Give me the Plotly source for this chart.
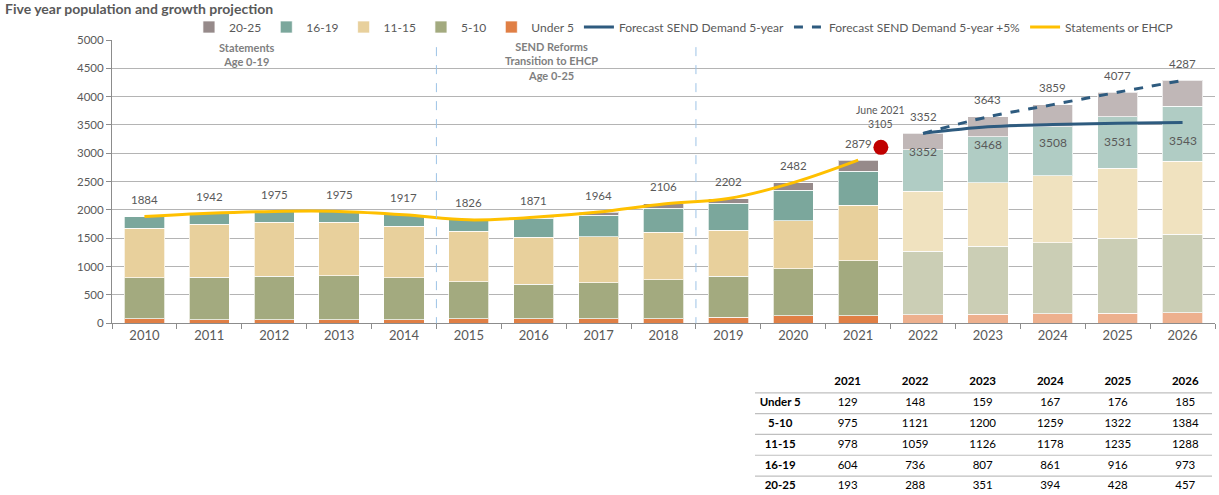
import plotly.graph_objects as go

# ---------------- data ----------------
years = list(range(2010, 2027))
under5   = [76, 64, 64, 64, 64, 76, 76, 76, 76, 111, 129, 129, 148, 159, 167, 176, 185]
age5_10  = [729, 753, 770, 776, 741, 658, 617, 640, 693, 723, 834, 975, 1121, 1200, 1259, 1322, 1384]
age11_15 = [876, 934, 947, 947, 911, 889, 824, 812, 836, 812, 847, 978, 1059, 1126, 1178, 1235, 1288]
age16_19 = [203, 191, 194, 188, 201, 203, 340, 382, 423, 470, 541, 604, 736, 807, 861, 916, 973]
age20_25 = [0, 0, 0, 0, 0, 0, 14, 54, 78, 86, 131, 193, 288, 351, 394, 428, 457]

hist_years = list(range(2010, 2022))
statements_ehcp = [1884, 1942, 1975, 1975, 1917, 1826, 1871, 1964, 2106, 2202, 2482, 2879]

fc_years = [2022, 2023, 2024, 2025, 2026]
forecast_5yr = [3352, 3468, 3508, 3531, 3543]
forecast_5yr_plus5 = [3352, 3643, 3859, 4077, 4287]

june_x = [2021.35]
june_y = [3105]

period_breaks = [2014.5, 2018.5]
table_years = [2021, 2022, 2023, 2024, 2025, 2026]
row_labels = ["Under 5", "5-10", "11-15", "16-19", "20-25"]

totals = [a + b + c + d + e for a, b, c, d, e in zip(under5, age5_10, age11_15, age16_19, age20_25)]

# ---------------- styling ----------------
FONT = "Lato"
GREY = "#595959"
W, H = 1219, 495
FC_START = 2022

series = [
    ("Under 5", under5, "#E07F45", "#EDB08E", 5),
    ("5-10", age5_10, "#A3AA7F", "#CBCEB5", 4),
    ("11-15", age11_15, "#E8D09C", "#F0E2BF", 3),
    ("16-19", age16_19, "#7BA79C", "#B0CCC4", 2),
    ("20-25", age20_25, "#968A8A", "#C0B7B7", 1),
]

fig = go.Figure()
for name, vals, dark, light, rank in series:
    fig.add_trace(go.Bar(
        x=years, y=vals, name=name, width=0.62, legendrank=rank,
        marker=dict(color=[light if y >= FC_START else dark for y in years],
                    line=dict(color="rgba(255,255,255,0.7)", width=1)),
        hoverinfo="skip",
    ))

fig.add_trace(go.Scatter(
    x=fc_years, y=forecast_5yr, name="Forecast SEND Demand 5-year", legendrank=6,
    mode="lines", line=dict(color="#2E5B7F", width=3, shape="spline"),
))
fig.add_trace(go.Scatter(
    x=fc_years, y=forecast_5yr_plus5, name="Forecast SEND Demand 5-year +5%", legendrank=7,
    mode="lines", line=dict(color="#2E5B7F", width=3, dash="dash", shape="spline"),
))
fig.add_trace(go.Scatter(
    x=hist_years, y=statements_ehcp, name="Statements or EHCP", legendrank=8,
    mode="lines", line=dict(color="#FFC000", width=3, shape="spline"),
))
fig.add_trace(go.Scatter(
    x=june_x, y=june_y, mode="markers", showlegend=False,
    marker=dict(color="#C00000", size=15),
))

# ---------------- table (text marks on their own axes) ----------------
# columns: 0 = row labels, 1..6 = years ; rows: 0 = header, 1..5 = age groups
tfont = dict(family=FONT, size=11.5, color="#000000")
fig.add_trace(go.Scatter(
    x=list(range(1, len(table_years) + 1)), y=[0] * len(table_years),
    text=[f"<b>{y}</b>" for y in table_years], mode="text", textfont=tfont,
    xaxis="x2", yaxis="y2", showlegend=False, hoverinfo="skip",
))
fig.add_trace(go.Scatter(
    x=[0] * len(row_labels), y=list(range(1, len(row_labels) + 1)),
    text=[f"<b>{r}</b>" for r in row_labels], mode="text", textfont=tfont,
    xaxis="x2", yaxis="y2", showlegend=False, hoverinfo="skip",
))
idx = [years.index(y) for y in table_years]
for ci, i in enumerate(idx, start=1):
    vals = [under5[i], age5_10[i], age11_15[i], age16_19[i], age20_25[i]]
    fig.add_trace(go.Scatter(
        x=[ci] * len(vals), y=list(range(1, len(vals) + 1)),
        text=[str(v) for v in vals], mode="text", textfont=tfont,
        xaxis="x2", yaxis="y2", showlegend=False, hoverinfo="skip",
    ))

annotations = []
for x, t in zip(years, totals):
    annotations.append(dict(x=x, y=t, text=str(t), showarrow=False, yshift=17,
                            font=dict(family=FONT, size=11.5, color=GREY)))
for x, v in zip(fc_years, forecast_5yr):
    annotations.append(dict(x=x, y=v, text=str(v), showarrow=False, yshift=-18,
                            font=dict(family=FONT, size=12, color=GREY)))
annotations.append(dict(x=june_x[0], y=june_y[0], text="June 2021<br>3105", showarrow=False,
                        yshift=30, font=dict(family=FONT, size=10.5, color=GREY)))
annotations.append(dict(x=2011.58, y=4750, text="<b>Statements<br>Age 0-19</b>", showarrow=False,
                        font=dict(family=FONT, size=11, color="#7F7F7F")))
annotations.append(dict(x=2016.27, y=4626, text="<b>SEND Reforms<br>Transition to EHCP<br>Age 0-25</b>",
                        showarrow=False, font=dict(family=FONT, size=11, color="#7F7F7F")))

shapes = []
for b in period_breaks:
    shapes.append(dict(type="line", xref="x", yref="y", x0=b, x1=b, y0=-50, y1=5000,
                       line=dict(color="#9DC3E6", width=1, dash="dash")))
# table horizontal rules between rows
for r in range(len(row_labels)):
    shapes.append(dict(type="line", xref="paper", yref="y2", x0=755 / W, x1=1212 / W,
                       y0=r + 0.5, y1=r + 0.5, line=dict(color="#BFBFBF", width=1.2)))

fig.update_layout(
    width=W, height=H,
    margin=dict(l=0, r=0, t=0, b=0, autoexpand=False),
    paper_bgcolor="white", plot_bgcolor="white",
    barmode="stack",
    font=dict(family=FONT, color=GREY),
    title=dict(text="<b>Five year population and growth projection</b>", x=5 / W, xanchor="left",
               y=(H - 9) / H, yanchor="middle", font=dict(family=FONT, size=14, color=GREY)),
    legend=dict(orientation="h", x=0.155, xanchor="left", y=(H - 27) / H, yanchor="middle",
                font=dict(family=FONT, size=12, color=GREY), bgcolor="rgba(0,0,0,0)",
                traceorder="normal"),
    xaxis=dict(domain=[112 / W, 1215 / W], range=[2009.5, 2026.5], tickmode="array",
               tickvals=years, ticktext=[str(y) for y in years], ticks="",
               showgrid=False, showline=True, linecolor="#8C8C8C", linewidth=1,
               tickfont=dict(family=FONT, size=13, color=GREY), automargin=False,
               minor=dict(tick0=2009.5, dtick=1, ticks="outside", ticklen=5, tickcolor="#8C8C8C",
                          showgrid=False)),
    yaxis=dict(domain=[(H - 323.3) / H, (H - 40) / H], range=[0, 5000], dtick=500,
               showgrid=True, gridcolor="#B4B4B4", gridwidth=1, zeroline=False,
               showline=True, linecolor="#8C8C8C", ticks="outside", ticklen=5, tickcolor="#8C8C8C",
               tickfont=dict(family=FONT, size=11.5, color=GREY), automargin=False),
    xaxis2=dict(domain=[755 / W, 1.0], range=[-0.373, 6.5], visible=False, fixedrange=True),
    yaxis2=dict(domain=[0, (H - 372) / H], range=[5.41, -0.5], visible=False, fixedrange=True),
    annotations=annotations,
    shapes=shapes,
)

fig.write_html("out.html", config={"displayModeBar": False},
               post_script="document.body.style.margin='0px';")
